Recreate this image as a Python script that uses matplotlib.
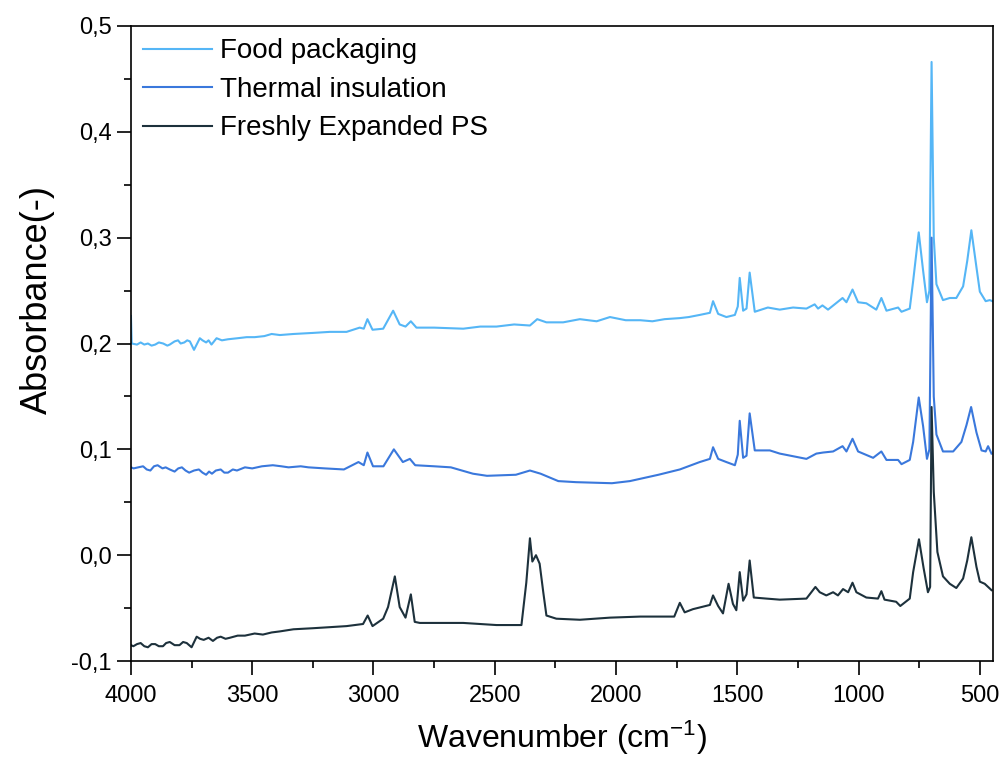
import matplotlib
matplotlib.use("Agg")
import matplotlib.pyplot as plt
from matplotlib.ticker import MultipleLocator, FuncFormatter

plt.rcParams['font.family'] = ['Liberation Sans', 'DejaVu Sans']
plt.rcParams['mathtext.default'] = 'regular'

# spectra: wavenumber (cm-1) / absorbance
food_wn = [4000, 3997, 3975, 3960, 3945, 3930, 3915, 3900, 3885, 3867, 3850, 3840, 3820, 3806,
           3795, 3780, 3768, 3757, 3740, 3716, 3705, 3690, 3680, 3668, 3647, 3625, 3600, 3560,
           3523, 3490, 3450, 3420, 3386, 3330, 3250, 3180, 3111, 3057, 3040, 3025, 3004, 2960,
           2919, 2892, 2868, 2846, 2823, 2750, 2630, 2560, 2493, 2420, 2355, 2325, 2287, 2218,
           2149, 2080, 2025, 1960, 1900, 1850, 1800, 1737, 1700, 1655, 1613, 1600, 1579, 1545,
           1510, 1498, 1490, 1476, 1462, 1449, 1428, 1374, 1325, 1270, 1215, 1181, 1167, 1149,
           1126, 1066, 1050, 1025, 1002, 968, 927, 906, 885, 837, 823, 789, 775, 752, 734, 718,
           708, 699, 690, 679, 652, 624, 597, 569, 552, 535, 514, 500, 476, 459, 448]
food_abs = [0.226, 0.200, 0.199, 0.201, 0.199, 0.200, 0.198, 0.199, 0.201, 0.200, 0.198, 0.199,
            0.202, 0.203, 0.200, 0.201, 0.203, 0.202, 0.194, 0.205, 0.203, 0.201, 0.203, 0.199,
            0.205, 0.203, 0.204, 0.205, 0.206, 0.206, 0.207, 0.209, 0.208, 0.209, 0.210, 0.211,
            0.211, 0.215, 0.214, 0.223, 0.213, 0.214, 0.231, 0.218, 0.216, 0.221, 0.215, 0.215,
            0.214, 0.216, 0.216, 0.218, 0.217, 0.223, 0.220, 0.220, 0.223, 0.221, 0.225, 0.222,
            0.222, 0.221, 0.223, 0.224, 0.225, 0.227, 0.229, 0.240, 0.228, 0.225, 0.227, 0.235,
            0.262, 0.231, 0.233, 0.267, 0.230, 0.234, 0.232, 0.234, 0.233, 0.237, 0.233, 0.236,
            0.232, 0.243, 0.239, 0.251, 0.239, 0.238, 0.232, 0.243, 0.231, 0.234, 0.230, 0.233,
            0.259, 0.305, 0.269, 0.239, 0.250, 0.466, 0.300, 0.256, 0.241, 0.243, 0.243, 0.254,
            0.278, 0.307, 0.272, 0.249, 0.240, 0.241, 0.240]

thermal_wn = [4000, 3989, 3970, 3950, 3935, 3920, 3905, 3890, 3870, 3857, 3840, 3820, 3805, 3790,
              3775, 3760, 3740, 3720, 3705, 3690, 3678, 3666, 3650, 3630, 3615, 3600, 3580, 3563,
              3530, 3500, 3460, 3415, 3380, 3350, 3300, 3268, 3200, 3122, 3062, 3040, 3025, 3002,
              2959, 2916, 2879, 2850, 2828, 2750, 2681, 2590, 2532, 2413, 2355, 2311, 2238, 2165,
              2017, 1943, 1825, 1737, 1655, 1613, 1600, 1579, 1545, 1510, 1498, 1490, 1476, 1462,
              1449, 1428, 1366, 1325, 1215, 1174, 1146, 1105, 1066, 1050, 1025, 1002, 940, 906,
              885, 837, 823, 789, 775, 752, 734, 718, 708, 699, 690, 679, 652, 610, 576, 555,
              536, 514, 493, 476, 466, 452]
thermal_abs = [0.083, 0.082, 0.083, 0.084, 0.081, 0.080, 0.084, 0.085, 0.082, 0.083, 0.081, 0.079,
               0.082, 0.083, 0.080, 0.078, 0.080, 0.081, 0.078, 0.076, 0.079, 0.077, 0.080, 0.081,
               0.078, 0.078, 0.081, 0.080, 0.083, 0.082, 0.084, 0.085, 0.084, 0.083, 0.084, 0.083,
               0.082, 0.081, 0.088, 0.085, 0.097, 0.084, 0.084, 0.100, 0.088, 0.091, 0.085, 0.084,
               0.083, 0.077, 0.075, 0.076, 0.080, 0.077, 0.070, 0.069, 0.068, 0.070, 0.076, 0.081,
               0.088, 0.091, 0.102, 0.091, 0.088, 0.085, 0.095, 0.127, 0.092, 0.094, 0.134, 0.099,
               0.099, 0.096, 0.091, 0.096, 0.097, 0.098, 0.103, 0.098, 0.110, 0.098, 0.092, 0.098,
               0.090, 0.090, 0.086, 0.090, 0.107, 0.149, 0.122, 0.091, 0.100, 0.300, 0.150, 0.114,
               0.098, 0.098, 0.107, 0.123, 0.140, 0.116, 0.099, 0.098, 0.103, 0.096]

fresh_wn = [4000, 3990, 3975, 3960, 3945, 3930, 3915, 3900, 3885, 3868, 3855, 3840, 3820, 3800,
            3785, 3770, 3760, 3750, 3729, 3715, 3700, 3680, 3662, 3645, 3630, 3610, 3592, 3560,
            3530, 3490, 3456, 3420, 3386, 3330, 3250, 3180, 3111, 3043, 3024, 3004, 2960, 2940,
            2912, 2892, 2868, 2846, 2830, 2809, 2700, 2630, 2493, 2390, 2370, 2355, 2345, 2330,
            2315, 2300, 2287, 2246, 2149, 2025, 1900, 1760, 1737, 1717, 1683, 1613, 1600, 1579,
            1559, 1536, 1518, 1504, 1490, 1476, 1462, 1449, 1432, 1380, 1325, 1215, 1178, 1160,
            1133, 1105, 1085, 1064, 1043, 1025, 1009, 968, 920, 906, 893, 845, 828, 789, 775,
            751, 732, 714, 705, 699, 690, 675, 652, 624, 597, 569, 552, 535, 514, 500, 480, 466,
            452]
fresh_abs = [-0.085, -0.086, -0.084, -0.083, -0.086, -0.087, -0.084, -0.084, -0.086, -0.086,
             -0.083, -0.082, -0.085, -0.085, -0.082, -0.083, -0.085, -0.087, -0.077, -0.079,
             -0.080, -0.078, -0.081, -0.078, -0.077, -0.079, -0.078, -0.076, -0.076, -0.074,
             -0.075, -0.073, -0.072, -0.070, -0.069, -0.068, -0.067, -0.065, -0.057, -0.067,
             -0.060, -0.049, -0.020, -0.049, -0.059, -0.037, -0.063, -0.064, -0.064, -0.064,
             -0.066, -0.066, -0.026, 0.016, -0.006, 0.000, -0.008, -0.035, -0.057, -0.060,
             -0.061, -0.059, -0.058, -0.058, -0.045, -0.054, -0.051, -0.047, -0.038, -0.048,
             -0.055, -0.027, -0.046, -0.052, -0.016, -0.043, -0.037, -0.005, -0.040, -0.041,
             -0.042, -0.041, -0.030, -0.035, -0.038, -0.035, -0.038, -0.032, -0.035, -0.026,
             -0.035, -0.040, -0.041, -0.034, -0.042, -0.044, -0.048, -0.041, -0.016, 0.015,
             -0.012, -0.035, -0.030, 0.140, 0.060, 0.003, -0.020, -0.027, -0.031, -0.022,
             -0.005, 0.017, -0.011, -0.025, -0.027, -0.030, -0.033]

labels = ['Food packaging', 'Thermal insulation', 'Freshly Expanded PS']
colors = ['#55b6f6', '#3a78dc', '#1d313c']

fig = plt.figure(figsize=(10.05, 7.62), dpi=100)
ax = fig.add_axes([0.1303, 0.1325, 0.8577, 0.8334])

ax.plot(food_wn, food_abs, color=colors[0], lw=1.5, label=labels[0])
ax.plot(thermal_wn, thermal_abs, color=colors[1], lw=1.5, label=labels[1])
ax.plot(fresh_wn, fresh_abs, color=colors[2], lw=1.5, label=labels[2])

ax.set_xlim(4000, 446)
ax.set_ylim(-0.1, 0.5)
ax.xaxis.set_major_locator(MultipleLocator(500))
ax.xaxis.set_minor_locator(MultipleLocator(250))
ax.yaxis.set_major_locator(MultipleLocator(0.1))
ax.yaxis.set_minor_locator(MultipleLocator(0.05))
ax.yaxis.set_major_formatter(FuncFormatter(lambda v, p: f"{v:.1f}".replace('.', ',')))

ax.tick_params(which='both', direction='out', top=False, right=False, width=1.2, labelsize=17)
ax.tick_params(which='major', length=10)
ax.tick_params(which='minor', length=5)
ax.tick_params(axis='x', which='major', pad=7)
ax.tick_params(axis='y', which='major', pad=4)
for s in ax.spines.values():
    s.set_linewidth(1.2)

ax.set_xlabel('Wavenumber (cm$^{-1}$)', fontsize=23, labelpad=9)
ax.set_ylabel('Absorbance(-)', fontsize=26)
ax.yaxis.set_label_coords(-0.088, 0.57)

ax.legend(loc='upper left', bbox_to_anchor=(0.0, 1.0), frameon=False, fontsize=20,
          handlelength=2.45, handletextpad=0.3, labelspacing=0.45, borderpad=0.2,
          borderaxespad=0.25)

fig.savefig('out.png', dpi=100)
